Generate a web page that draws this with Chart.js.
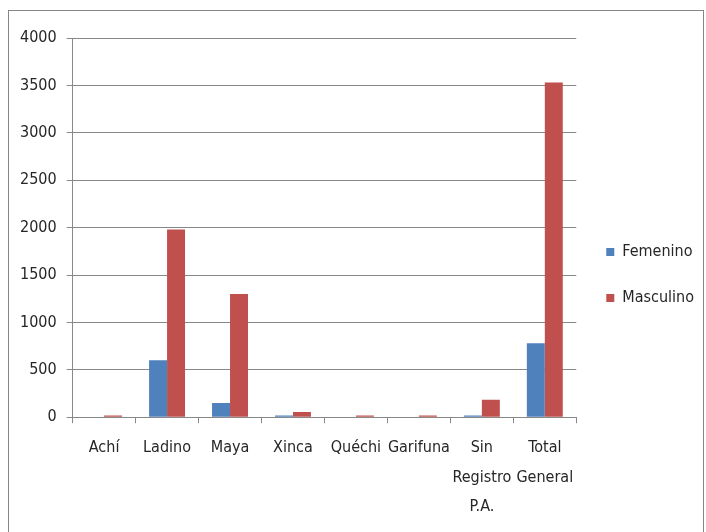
<!DOCTYPE html>
<html>
<head>
<meta charset="utf-8">
<script src="https://cdn.jsdelivr.net/npm/chart.js@4.4.0/dist/chart.umd.min.js"></script>
<style>
  html, body { margin: 0; padding: 0; background: #fff; }
  #wrap { width: 706px; height: 532px; }
</style>
</head>
<body>
<div id="wrap"><canvas id="myChart" width="706" height="532"></canvas></div>
<script>
// categories and series
var categories = ["Achí", "Ladino", "Maya", "Xinca", "Quéchi", "Garifuna", ["Sin", "Registro", "P.A."], ["Total", "General"]];
var femenino   = [0, 600, 150, 18, 0, 0, 18, 780];
var masculino  = [18, 1980, 1300, 55, 18, 18, 185, 3530];
var yTicks     = [0, 500, 1000, 1500, 2000, 2500, 3000, 3500, 4000];

var fontFam = "'DejaVu Sans Condensed', 'Liberation Sans Narrow', sans-serif";
var gray = "#888888";

// outer frame like the spreadsheet chart box
var frame = {
  id: "frame",
  afterDraw: function (chart) {
    var ctx = chart.ctx;
    ctx.save();
    ctx.strokeStyle = "#868686";
    ctx.lineWidth = 1;
    ctx.strokeRect(8.5, 10.5, 695, 530);
    ctx.restore();
  }
};

new Chart("myChart", {
  type: "bar",
  data: {
    labels: categories,
    datasets: [{
      label: "Femenino",
      backgroundColor: "#4F81BD",
      data: femenino
    }, {
      label: "Masculino",
      backgroundColor: "#C0504D",
      data: masculino
    }]
  },
  options: {
    responsive: false,
    animation: false,
    categoryPercentage: 0.571,
    barPercentage: 1,
    layout: { padding: { left: 10, top: 38, right: 2, bottom: 0 } },
    plugins: {
      legend: {
        display: true,
        position: "right",
        align: "start",
        // empty title only used as a spacer to push the items down
        title: { display: true, text: "", font: { size: 10, lineHeight: 1 }, padding: { top: 166, bottom: 0 } },
        labels: {
          boxWidth: 8,
          boxHeight: 8,
          padding: 30,
          color: "#262626",
          font: { family: fontFam, size: 16 }
        }
      },
      title: { display: false },
      tooltip: { enabled: false }
    },
    scales: {
      x: {
        grid: { offset: true, drawOnChartArea: false, drawTicks: true, tickLength: 6, color: gray },
        border: { color: gray },
        ticks: {
          color: "#262626",
          padding: 10,
          maxRotation: 0,
          autoSkip: false,
          font: { family: fontFam, size: 16, lineHeight: 1.85 }
        }
      },
      y: {
        min: 0,
        max: 4000,
        afterBuildTicks: function (axis) {
          axis.ticks = yTicks.map(function (v) { return { value: v }; });
        },
        grid: { color: gray, tickLength: 6 },
        border: { color: gray },
        ticks: {
          color: "#262626",
          padding: 10,
          font: { family: fontFam, size: 16 },
          callback: function (v) { return String(v); }
        }
      }
    }
  },
  plugins: [frame]
});
</script>
</body>
</html>
